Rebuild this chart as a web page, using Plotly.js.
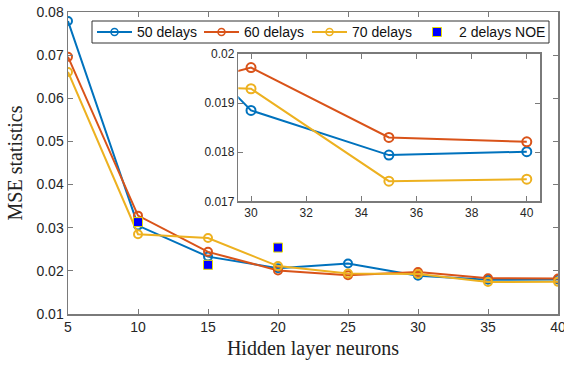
<!DOCTYPE html>
<html>
<head>
<meta charset="utf-8">
<script src="https://cdn.plot.ly/plotly-3.0.1.min.js"></script>
<style>
  html, body { margin: 0; padding: 0; background: #fff; }
  #chart { width: 564px; height: 368px; }
</style>
</head>
<body>
<div id="chart"></div>
<script>
// Hidden layer size vs. MSE for networks trained with different delay counts
const neurons = [5, 10, 15, 20, 25, 30, 35, 40];
const mse50 = [0.0779, 0.0305, 0.0233, 0.0206, 0.0217, 0.01885, 0.01794, 0.01801];
const mse60 = [0.0696, 0.0328, 0.0244, 0.0201, 0.0190, 0.01972, 0.01830, 0.01821];
const mse70 = [0.0661, 0.0285, 0.0276, 0.0211, 0.0194, 0.01929, 0.01741, 0.01745];

const noeNeurons = [10, 15, 20];
const mseNoe = [0.0313, 0.0214, 0.0254];

const seriesNames = ['50 delays', '60 delays', '70 delays'];
const noeName = '2 delays NOE';

const mainTicks = [5, 10, 15, 20, 25, 30, 35, 40];
const mainYTicks = [0.01, 0.02, 0.03, 0.04, 0.05, 0.06, 0.07, 0.08];
const mainYLabels = ['0.01', '0.02', '0.03', '0.04', '0.05', '0.06', '0.07', '0.08'];
const zoomXTicks = [30, 32, 34, 36, 38, 40];
const zoomYTicks = [0.017, 0.018, 0.019, 0.02];
const zoomYLabels = ['0.017', '0.018', '0.019', '0.02'];

const colors = ['#0072BD', '#D95319', '#EDB120'];
const seriesData = [mse50, mse60, mse70];
const noeFill = '#0000FF';
const noeEdge = '#e6dc00';

const W = 564, H = 368;
const M = { l: 68, r: 6, t: 12, b: 54 };
const plotW = W - M.l - M.r, plotH = H - M.t - M.b;
// pixel -> paper fraction helpers for the legend box
const px = v => (v - M.l) / plotW;
const py = v => (H - M.b - v) / plotH;

const traces = [];
seriesData.forEach((ys, i) => {
  traces.push({
    x: neurons, y: ys, name: seriesNames[i], type: 'scatter', mode: 'lines+markers',
    line: { color: colors[i], width: 2 },
    marker: { symbol: 'circle-open', size: 8, color: colors[i], line: { width: 2 } },
    xaxis: 'x', yaxis: 'y', showlegend: false
  });
});
traces.push({
  x: noeNeurons, y: mseNoe, name: noeName, type: 'scatter', mode: 'markers',
  marker: { symbol: 'square', size: 9, color: noeFill, line: { color: noeEdge, width: 1 } },
  xaxis: 'x', yaxis: 'y', showlegend: false
});
// magnified view of the 30-40 neuron region
seriesData.forEach((ys, i) => {
  traces.push({
    x: neurons, y: ys, showlegend: false, type: 'scatter', mode: 'lines+markers',
    line: { color: colors[i], width: 2 },
    marker: { symbol: 'circle-open', size: 9, color: colors[i], line: { width: 2 } },
    xaxis: 'x2', yaxis: 'y2'
  });
});

// compact single-row legend box
const legendBox = { x0: 92, x1: 549, y0: 21, y1: 43 };
const legendCY = (legendBox.y0 + legendBox.y1) / 2;
const lineKeys = [{ a: 97, b: 132, text: 135 }, { a: 204, b: 239, text: 242 }, { a: 312, b: 347, text: 350 }];
const squareKey = { c: 437, text: 457 };
const legendFont = { family: 'Liberation Sans, Arial, sans-serif', size: 14, color: '#111111' };

const shapes = [{
  type: 'rect', xref: 'paper', yref: 'paper',
  x0: px(legendBox.x0), x1: px(legendBox.x1), y0: py(legendBox.y1), y1: py(legendBox.y0),
  line: { color: '#333333', width: 1 }, fillcolor: '#ffffff', layer: 'above'
}];
const annotations = [];
lineKeys.forEach((k, i) => {
  shapes.push({
    type: 'line', xref: 'paper', yref: 'paper', layer: 'above',
    x0: px(k.a), x1: px(k.b), y0: py(legendCY), y1: py(legendCY),
    line: { color: colors[i], width: 2 }
  });
  shapes.push({
    type: 'circle', xref: 'paper', yref: 'paper', layer: 'above',
    xsizemode: 'pixel', ysizemode: 'pixel',
    xanchor: px((k.a + k.b) / 2), yanchor: py(legendCY),
    x0: -3.5, x1: 3.5, y0: -3.5, y1: 3.5,
    line: { color: colors[i], width: 1.5 }, fillcolor: 'rgba(0,0,0,0)'
  });
  annotations.push({
    xref: 'paper', yref: 'paper', x: px(k.text), y: py(legendCY),
    xanchor: 'left', yanchor: 'middle', showarrow: false,
    text: seriesNames[i], font: legendFont
  });
});
shapes.push({
  type: 'rect', xref: 'paper', yref: 'paper', layer: 'above',
  xsizemode: 'pixel', ysizemode: 'pixel',
  xanchor: px(squareKey.c), yanchor: py(legendCY),
  x0: -4.5, x1: 4.5, y0: -4.5, y1: 4.5,
  line: { color: noeEdge, width: 1 }, fillcolor: noeFill
});
annotations.push({
  xref: 'paper', yref: 'paper', x: px(squareKey.text), y: py(legendCY),
  xanchor: 'left', yanchor: 'middle', showarrow: false,
  text: noeName, font: legendFont
});

const axisColor = '#7a7a7a';
const tickFont = { family: 'Liberation Sans, Arial, sans-serif', size: 14, color: '#262626' };
const smallTickFont = { family: 'Liberation Sans, Arial, sans-serif', size: 12, color: '#262626' };
const titleFont = { family: 'Liberation Serif, Times New Roman, serif', size: 20, color: '#222222' };
const baseAxis = {
  showgrid: false, zeroline: false, showline: true, linecolor: axisColor, linewidth: 1.5,
  mirror: 'ticks', ticks: 'inside', ticklen: 5, tickcolor: axisColor, tickwidth: 1
};

const layout = {
  width: W, height: H,
  margin: M,
  paper_bgcolor: '#ffffff', plot_bgcolor: '#ffffff',
  showlegend: false,
  shapes: shapes,
  annotations: annotations,
  xaxis: Object.assign({}, baseAxis, {
    domain: [0, 1], range: [5, 40], tickvals: mainTicks, tickfont: tickFont, anchor: 'y',
    ticklabeloverflow: 'allow',
    title: { text: 'Hidden layer neurons', standoff: 6, font: titleFont }
  }),
  yaxis: Object.assign({}, baseAxis, {
    domain: [0, 1], range: [0.01, 0.08], tickvals: mainYTicks, ticktext: mainYLabels,
    tickfont: tickFont, anchor: 'x',
    title: { text: 'MSE statistics', standoff: 8, font: titleFont }
  }),
  xaxis2: Object.assign({}, baseAxis, {
    domain: [0.3476, 0.9633], range: [29.54, 40.48], tickvals: zoomXTicks, anchor: 'y2',
    tickfont: smallTickFont
  }),
  yaxis2: Object.assign({}, baseAxis, {
    domain: [0.3731, 0.8614], range: [0.017, 0.02], tickvals: zoomYTicks, ticktext: zoomYLabels,
    anchor: 'x2', tickfont: smallTickFont
  })
};

Plotly.newPlot('chart', traces, layout, { staticPlot: true, displayModeBar: false });
</script>
</body>
</html>
